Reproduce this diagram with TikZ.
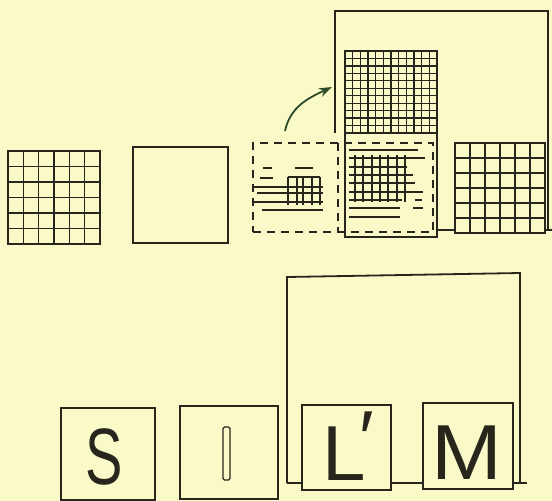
\documentclass[tikz,border=0pt]{standalone}
\usepackage{fontspec}
\newfontfamily\lettering{Liberation Sans}
\usetikzlibrary{arrows.meta, calc}
\definecolor{paper}{RGB}{250,249,200}
\definecolor{ink}{RGB}{40,38,28}
\definecolor{arrowgreen}{RGB}{45,75,40}

\begin{document}
\begin{tikzpicture}[
    x=1pt, y=-1pt,
    sq/.style={draw=ink, line width=2.6pt, fill=paper, inner sep=0pt, outer sep=0pt},
    gridline/.style={draw=ink, line width=1.2pt},
    ghost/.style={draw=ink, line width=1.6pt, dash pattern=on 8pt off 6pt},
    frame/.style={draw=ink, line width=1.8pt},
    letterbox/.style={draw=ink, line width=2.2pt, fill=paper, inner sep=0pt, outer sep=0pt},
    glyph/.style={text=ink, inner sep=0pt, anchor=base, font=\lettering\fontsize{78}{78}\selectfont},
    flip/.style={-{Stealth[length=13pt, width=9pt]}, line width=1.8pt, arrowgreen},
]
    \fill[paper] (0,0) rectangle (552,501);
    \useasboundingbox (0,0) rectangle (552,501);

    % frames
    \draw[frame] (335,133) -- (335,11) -- (548,11) -- (548,230);
    \draw[frame] (437,230) -- (552,230);
    \draw[frame] (287,483) -- (287,277) -- (520,273) -- (520,483);
    \draw[frame] (287,483) -- (527,483);

    % top row
    \node[sq, minimum width=92, minimum height=93] (gridL) at (54,197.5) {};
    \foreach \k in {1,...,5} {
        \draw[gridline] ($(gridL.north west)!\k/6!(gridL.north east)$) -- ($(gridL.south west)!\k/6!(gridL.south east)$);
        \draw[gridline] ($(gridL.north west)!\k/6!(gridL.south west)$) -- ($(gridL.north east)!\k/6!(gridL.south east)$);
    }
    \node[sq, minimum width=95, minimum height=96] (blank) at (180.5,195) {};

    \node[sq, minimum width=92, minimum height=186] (stack) at (391,144) {};
    \foreach \k in {1,...,11}
        \draw[gridline] (345+\k*92/12,51) -- (345+\k*92/12,133);
    \foreach \k in {1,...,11}
        \draw[gridline] (345,51+\k*82/11) -- (437,51+\k*82/11);
    \foreach \y/\e in {150/418,158/425,167/407,175/413,183/415,192/423,200/402,208/400,217/400}
        \draw[gridline] (349,\y) -- (\e,\y);
    \foreach \x in {355,363,372,380,388,397,405}
        \draw[gridline] (\x,155) -- (\x,202);
    \draw[gridline] (415,200) -- (422,200) (413,208) -- (423,208);

    \node[ghost, minimum width=180, minimum height=89, inner sep=0pt, outer sep=0pt] (ghostbox) at (343,187.5) {};
    \draw[ghost] (338,143) -- (338,232);
    \foreach \y/\s in {187/253,193/257,202/253,210/262}
        \draw[gridline] (\s,\y) -- (323,\y);
    \foreach \x in {288,297,303,312,320}
        \draw[gridline] (\x,177) -- (\x,205);
    \draw[gridline] (288,177) -- (320,177) (295,168) -- (313,168);
    \draw[gridline] (263,168) -- (272,168) (260,178) -- (273,178);

    \node[sq, minimum width=90, minimum height=90] (gridR) at (500,188) {};
    \foreach \k in {1,...,5} {
        \draw[gridline] ($(gridR.north west)!\k/6!(gridR.north east)$) -- ($(gridR.south west)!\k/6!(gridR.south east)$);
        \draw[gridline] ($(gridR.north west)!\k/6!(gridR.south west)$) -- ($(gridR.north east)!\k/6!(gridR.south east)$);
    }

    \coordinate (flipS) at (285,131);
    \coordinate (flipE) at (332,87);
    \draw[flip] (flipS) to[out=78, in=205] (flipE);

    % bottom row
    \node[letterbox, minimum width=94, minimum height=92] (boxS) at (108,454) {};
    \node[letterbox, minimum width=98, minimum height=93] (boxI) at (229,452.5) {};
    \node[letterbox, minimum width=89, minimum height=85] (boxL) at (346.5,447.5) {};
    \node[letterbox, minimum width=90, minimum height=86] (boxM) at (468,446) {};

    \node[glyph, xscale=0.7, font=\lettering\fontsize{80}{80}\selectfont] (letS) at (104,484) {S};
    \node[draw=ink, line width=1.2pt, rounded corners=1.5pt, minimum width=7, minimum height=53, inner sep=0pt] (barI) at (226.5,453.5) {};
    \node[glyph, anchor=base west] (letL) at (322,480) {L\kern-6pt\raisebox{15pt}{′}};
    \node[glyph, xscale=1.09] (letM) at (467,479) {M};
\end{tikzpicture}
\end{document}
